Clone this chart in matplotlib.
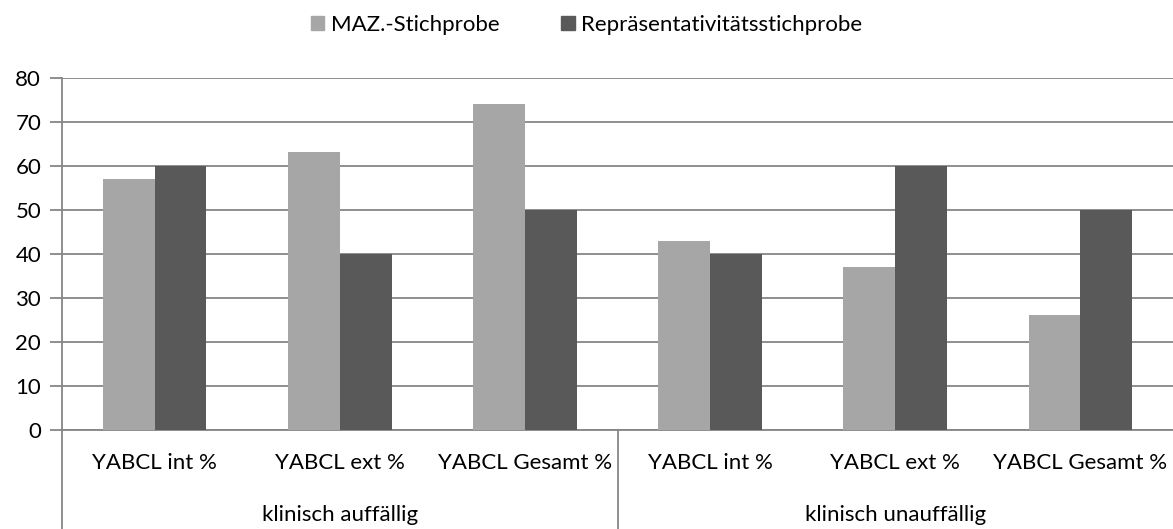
import numpy as np
import matplotlib.pyplot as plt
from matplotlib.patches import Rectangle

plt.rcParams['font.family'] = ['Lato', 'DejaVu Sans']

categories = ['YABCL int %', 'YABCL ext %', 'YABCL Gesamt %',
              'YABCL int %', 'YABCL ext %', 'YABCL Gesamt %']
groups = ['klinisch auffällig', 'klinisch unauffällig']
maz = [57, 63, 74, 43, 37, 26]
rep = [60, 40, 50, 40, 60, 50]
series_names = ['MAZ.-Stichprobe', 'Repräsentativitätsstichprobe']
yticks = [0, 10, 20, 30, 40, 50, 60, 70, 80]

c_light = '#a6a6a6'
c_dark = '#595959'
c_grid = '#868686'
fs = 16

W, H = 1173, 529
fig = plt.figure(figsize=(W / 100, H / 100), dpi=100)
x0, x1, y0, y1 = 62, 1173, 430, 77.5
ax = fig.add_axes([x0 / W, 1 - y0 / H, (x1 - x0) / W, (y0 - y1) / H])

x = np.arange(len(categories))
bw = 0.28
ax.bar(x - bw / 2, maz, bw, color=c_light, zorder=3)
ax.bar(x + bw / 2, rep, bw, color=c_dark, zorder=3)

ax.set_xlim(-0.5, len(categories) - 0.5)
ax.set_ylim(0, 80)
ax.set_yticks(yticks)
ax.yaxis.grid(True, color=c_grid, linewidth=1.3, zorder=0)
ax.set_xticks([])
ax.tick_params(axis='y', length=9, width=1.3, color=c_grid, labelsize=fs, pad=6)
for s in ['top', 'right']:
    ax.spines[s].set_visible(False)
for s in ['left', 'bottom']:
    ax.spines[s].set_color(c_grid)
    ax.spines[s].set_linewidth(1.3)

# multi-level category labels
tr = ax.get_xaxis_transform()
for i, c in enumerate(categories):
    ax.text(i, -0.095, c, transform=tr, ha='center', va='center', fontsize=fs)
for g, name in enumerate(groups):
    ax.text(g * 3 + 1, -0.24, name, transform=tr, ha='center', va='center', fontsize=fs)
for xb in [-0.5, 2.5]:
    ax.plot([xb, xb], [0, -0.29], transform=tr, color=c_grid, linewidth=1.3, clip_on=False)

# legend
handles = [Rectangle((0, 0), 1, 1, color=c_light), Rectangle((0, 0), 1, 1, color=c_dark)]
fig.legend(handles, series_names, loc='center', bbox_to_anchor=(0.5, 1 - 25 / H), ncol=2,
           frameon=False, fontsize=fs, handlelength=0.6, handleheight=0.6,
           handletextpad=0.3, columnspacing=2.8)

fig.savefig('out.png', dpi=100)
